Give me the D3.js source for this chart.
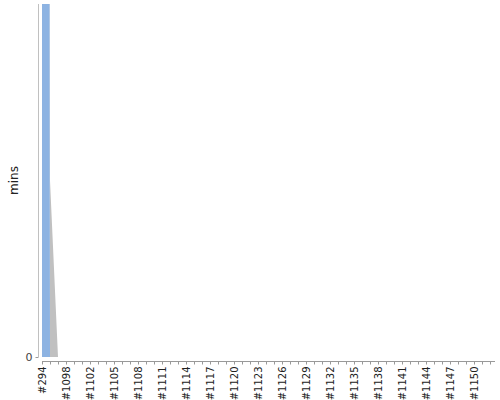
<!DOCTYPE html>
<html lang="en">
  <head>
    <meta charset="UTF-8" />
    <title>Build time trend</title>
    <script src="https://d3js.org/d3.v7.min.js"></script>
    <style>
      body {
        margin: 0;
        padding: 0;
        background-color: #fff;
      }
      text {
        font-family: "DejaVu Sans", sans-serif;
      }
    </style>
  </head>
  <body>
    <div id="chart"></div>

    <script>
      const width = 500;
      const height = 400;

      // build labels along the x axis
      const builds = ["#294", "#1096", "#1097", "#1098", "#1099", "#1101"];
      for (let b = 1102; b <= 1152; b++) builds.push("#" + b);

      // minutes per build, two stacked series (one value per build, rest zero)
      const mainTimes = [268].concat(new Array(builds.length - 1).fill(0));
      const otherTimes = [0, 5].concat(new Array(builds.length - 2).fill(0));

      const yTicks = [0];
      const yMax = 10;

      const plot = { left: 42, right: 490, top: 4, bottom: 357 };

      const svg = d3.select("#chart").append("svg").attr("width", width).attr("height", height);

      const x = d3.scalePoint().domain(builds).range([plot.left, plot.right]);

      const y = d3.scaleLinear().domain([0, yMax]).range([plot.bottom, plot.top]);

      const table = builds.map((b, i) => ({ build: b, main: mainTimes[i], other: otherTimes[i] }));
      const series = d3.stack().keys(["main", "other"])(table);
      const color = d3.scaleOrdinal().domain(["main", "other"]).range(["#8db3e2", "#c0c0c0"]);

      svg
        .append("clipPath")
        .attr("id", "plot-clip")
        .append("rect")
        .attr("x", plot.left)
        .attr("y", plot.top)
        .attr("width", width - plot.left)
        .attr("height", plot.bottom - plot.top);

      const area = d3
        .area()
        .x((d) => x(d.data.build))
        .y0((d) => y(d[0]))
        .y1((d) => y(d[1]));

      svg
        .append("g")
        .attr("clip-path", "url(#plot-clip)")
        .selectAll("path")
        .data(series)
        .enter()
        .append("path")
        .attr("d", area)
        .attr("fill", (d) => color(d.key));

      // y axis, offset a little left of the plot
      const yAxis = svg
        .append("g")
        .attr("transform", "translate(38.5,0)")
        .call(d3.axisLeft(y).tickValues(yTicks).tickSize(3).tickPadding(3));
      yAxis.select(".domain").attr("stroke", "#c0c0c0").attr("d", `M0,${plot.top}V${plot.bottom}`);
      yAxis.selectAll(".tick line").attr("stroke", "#999");
      yAxis.selectAll(".tick text").attr("fill", "#444").style("font-size", "11px");

      // x axis, offset a little below the plot
      const xAxis = svg
        .append("g")
        .attr("transform", "translate(0,361.5)")
        .call(
          d3
            .axisBottom(x)
            .tickSize(3)
            .tickFormat((d, i) => (i % 3 === 0 ? d : ""))
        );
      xAxis.select(".domain").attr("stroke", "#999").attr("d", `M${plot.left},0H495`);
      xAxis.selectAll(".tick line").attr("stroke", "#999");
      xAxis
        .selectAll(".tick text")
        .attr("fill", "#222")
        .style("font-size", "10px")
        .attr("text-anchor", "end")
        .attr("transform", "rotate(-90)")
        .attr("x", -5)
        .attr("y", 0)
        .attr("dy", "0.35em");

      svg
        .append("text")
        .attr("transform", `translate(18,${(plot.top + plot.bottom) / 2}) rotate(-90)`)
        .attr("text-anchor", "middle")
        .attr("fill", "#222")
        .style("font-size", "12px")
        .text("mins");
    </script>
  </body>
</html>
